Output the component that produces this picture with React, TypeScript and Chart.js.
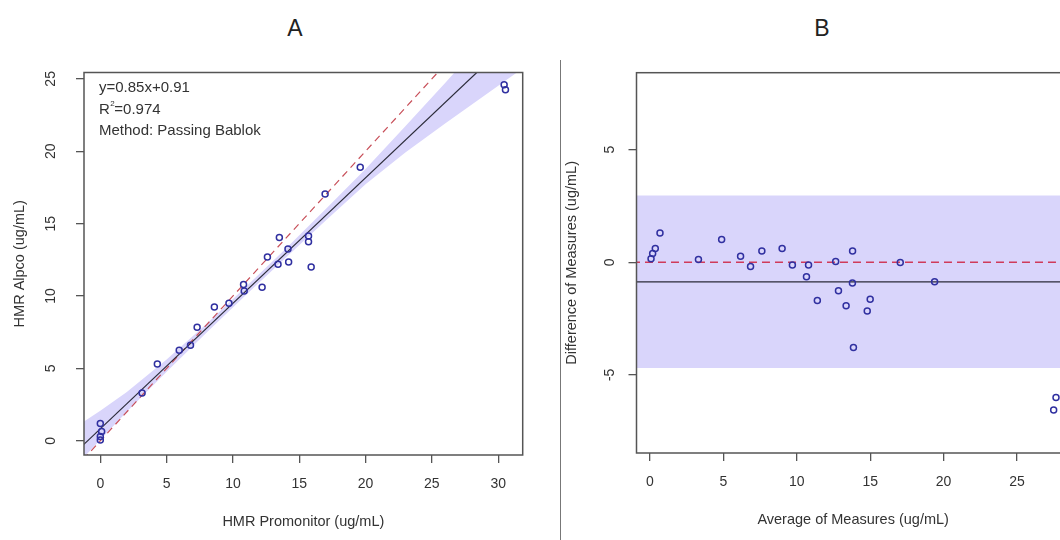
import React, { useEffect, useRef } from "react";
import { Chart, registerables } from "chart.js";
Chart.register(...registerables);

// ---------- Panel A: method comparison (Passing-Bablok) ----------
const promonitor = [0, 0.1, 0, 0, 3.15, 4.3, 5.95, 6.8, 7.3, 8.6, 9.7, 10.8, 10.85, 12.2, 12.6, 13.5, 13.4, 14.15, 14.2, 15.7, 15.7, 15.9, 16.95, 19.6, 30.45, 30.55];
const alpco = [1.2, 0.65, 0.3, 0.05, 3.3, 5.3, 6.25, 6.6, 7.85, 9.25, 9.5, 10.8, 10.35, 10.6, 12.7, 14.05, 12.2, 13.25, 12.35, 14.15, 13.75, 12.0, 17.05, 18.9, 24.6, 24.25];
const regLineX = [-1.3, 32];
const regLineY = [-0.3, 28.57];
const identityX = [-1.3, 27];
const identityY = [-1.3, 27];
const bandX = [-1.3, 0, 2, 5, 8, 11, 14, 17, 20, 23, 26, 29, 32];
const bandUpper = [1.3, 2.08, 3.38, 5.62, 8.07, 10.65, 13.29, 16.02, 18.77, 21.72, 24.72, 27.77, 30.82];
const bandLower = [-1.2, 0.08, 2.01, 4.77, 7.47, 10.09, 12.67, 15.22, 17.72, 19.92, 21.92, 23.87, 25.82];
const ticksAX = [0, 5, 10, 15, 20, 25, 30];
const ticksAY = [0, 5, 10, 15, 20, 25];
const annotationA = ["y=0.85x+0.91", "R", "2", "=0.974", "Method: Passing Bablok"];

// ---------- Panel B: Bland-Altman ----------
const averages = [0.07, 0.18, 0.36, 0.68, 3.3, 4.88, 6.17, 6.85, 7.62, 9.0, 9.7, 10.8, 10.66, 11.4, 12.65, 13.8, 12.84, 13.79, 13.36, 15.0, 14.8, 13.86, 17.05, 19.39, 27.66, 27.5];
const differences = [0.16, 0.39, 0.61, 1.3, 0.12, 1.01, 0.27, -0.19, 0.5, 0.61, -0.12, -0.12, -0.64, -1.7, 0.04, 0.5, -1.26, -0.92, -1.93, -1.64, -2.16, -3.79, -0.01, -0.86, -6.0, -6.56];
const meanDiff = -0.87;
const upperLoA = 2.97;
const lowerLoA = -4.7;
const hLineX = [-3, 35];
const ticksBX = [0, 5, 10, 15, 20, 25];
const ticksBY = [-5, 0, 5];

const FONT = "'Liberation Sans', Arial, sans-serif";
const TXT = "#333";
const POINT = "#3030a0";
const BAND = "#d9d5fb";

const pts = (xs: number[], ys: number[]) => xs.map((x, i) => ({ x, y: ys[i] }));

const boxPlugin = {
  id: "boxPlugin",
  afterDatasetsDraw(chart: any) {
    const { ctx, chartArea: a } = chart;
    ctx.save();
    ctx.strokeStyle = "#555";
    ctx.lineWidth = 1.5;
    ctx.strokeRect(a.left, a.top, a.right - a.left, a.bottom - a.top);
    ctx.restore();
  },
};

const annotPlugin = {
  id: "annotPlugin",
  afterDraw(chart: any) {
    const ctx = chart.ctx;
    ctx.save();
    ctx.fillStyle = TXT;
    ctx.textBaseline = "middle";
    ctx.textAlign = "left";
    ctx.font = `15px ${FONT}`;
    const x0 = 99;
    ctx.fillText(annotationA[0], x0, 88);
    ctx.fillText(annotationA[1], x0, 110);
    const rw = ctx.measureText(annotationA[1]).width;
    ctx.font = `8px ${FONT}`;
    ctx.fillText(annotationA[2], x0 + rw + 0.5, 104);
    ctx.font = `15px ${FONT}`;
    ctx.fillText(annotationA[3], x0 + rw + 4.5, 110);
    ctx.fillText(annotationA[4], x0, 131);
    ctx.restore();
  },
};

function axis(opts: {
  min: number;
  max: number;
  ticks: number[];
  title: string;
  vertical: boolean;
  size: number;
  tickPad: number;
  titlePad: number;
}) {
  return {
    type: "linear",
    position: opts.vertical ? "left" : "bottom",
    min: opts.min,
    max: opts.max,
    afterBuildTicks: (s: any) => {
      s.ticks = opts.ticks.map((v) => ({ value: v }));
    },
    afterFit: (s: any) => {
      if (opts.vertical) s.width = opts.size;
      else s.height = opts.size;
    },
    grid: {
      display: true,
      drawOnChartArea: false,
      drawTicks: true,
      tickLength: 8,
      color: "#555",
      lineWidth: 1.3,
    },
    border: { display: false },
    ticks: {
      color: TXT,
      font: { family: FONT, size: 14 },
      padding: opts.tickPad,
      autoSkip: false,
      includeBounds: false,
      minRotation: opts.vertical ? 90 : 0,
      maxRotation: opts.vertical ? 90 : 0,
      crossAlign: opts.vertical ? "center" : "near",
      callback: (v: any) => String(v),
    },
    title: {
      display: true,
      text: opts.title,
      color: TXT,
      font: { family: FONT, size: 14.5 },
      padding: opts.vertical ? { top: opts.titlePad, bottom: 0 } : { top: 0, bottom: opts.titlePad },
    },
  };
}

const lineDs = (data: any[], color: string, width: number, dash: number[], order: number) => ({
  type: "line",
  data,
  borderColor: color,
  borderWidth: width,
  borderDash: dash,
  pointRadius: 0,
  fill: false,
  tension: 0,
  order,
});

export default function App() {
  const refA = useRef<HTMLCanvasElement>(null);
  const refB = useRef<HTMLCanvasElement>(null);

  useEffect(() => {
    const chartA = new Chart(refA.current as HTMLCanvasElement, {
      type: "line",
      data: {
        datasets: [
          {
            type: "line",
            data: pts(promonitor, alpco),
            showLine: false,
            pointStyle: "circle",
            pointRadius: 3,
            pointBorderWidth: 1.5,
            pointBorderColor: POINT,
            pointBackgroundColor: "rgba(0,0,0,0)",
            borderColor: POINT,
            order: 0,
          },
          lineDs(pts(regLineX, regLineY), "#2a2a38", 1.2, [], 1),
          lineDs(pts(identityX, identityY), "#c8505a", 1.2, [7, 5], 2),
          {
            type: "line",
            data: pts(bandX, bandUpper),
            borderColor: "rgba(0,0,0,0)",
            borderWidth: 0,
            pointRadius: 0,
            backgroundColor: BAND,
            fill: "+1",
            tension: 0,
            order: 3,
          },
          {
            type: "line",
            data: pts(bandX, bandLower),
            borderColor: "rgba(0,0,0,0)",
            borderWidth: 0,
            pointRadius: 0,
            fill: false,
            tension: 0,
            order: 4,
          },
        ],
      } as any,
      options: {
        responsive: false,
        animation: false,
        events: [],
        layout: { padding: { top: 72.5, right: 22.3, left: 0, bottom: 0 } },
        plugins: { legend: { display: false }, tooltip: { enabled: false } },
        scales: {
          x: axis({ min: -1.23, max: 31.85, ticks: ticksAX, title: "HMR Promonitor (ug/mL)", vertical: false, size: 85, tickPad: 12.6, titlePad: 9.3 }),
          y: axis({ min: -0.98, max: 25.44, ticks: ticksAY, title: "HMR Alpco (ug/mL)", vertical: true, size: 84, tickPad: 17.5, titlePad: 11.3 }),
        } as any,
      },
      plugins: [boxPlugin, annotPlugin],
    } as any);

    const chartB = new Chart(refB.current as HTMLCanvasElement, {
      type: "line",
      data: {
        datasets: [
          {
            type: "line",
            data: pts(averages, differences),
            showLine: false,
            pointStyle: "circle",
            pointRadius: 3,
            pointBorderWidth: 1.5,
            pointBorderColor: POINT,
            pointBackgroundColor: "rgba(0,0,0,0)",
            borderColor: POINT,
            order: 0,
          },
          lineDs(pts(hLineX, hLineX.map(() => meanDiff)), "#2a2a38", 1.3, [], 1),
          lineDs(pts(hLineX, hLineX.map(() => 0)), "#d03a5a", 1.5, [8, 5], 2),
          {
            type: "line",
            data: pts(hLineX, hLineX.map(() => upperLoA)),
            borderColor: "rgba(0,0,0,0)",
            borderWidth: 0,
            pointRadius: 0,
            backgroundColor: BAND,
            fill: "+1",
            order: 3,
          },
          {
            type: "line",
            data: pts(hLineX, hLineX.map(() => lowerLoA)),
            borderColor: "rgba(0,0,0,0)",
            borderWidth: 0,
            pointRadius: 0,
            fill: false,
            order: 4,
          },
        ],
      } as any,
      options: {
        responsive: false,
        animation: false,
        events: [],
        layout: { padding: { top: 72.7, right: 10.2, left: 0, bottom: 0 } },
        plugins: { legend: { display: false }, tooltip: { enabled: false } },
        scales: {
          x: axis({ min: -0.92, max: 28.6, ticks: ticksBX, title: "Average of Measures (ug/mL)", vertical: false, size: 87, tickPad: 12.6, titlePad: 11.3 }),
          y: axis({ min: -8.47, max: 8.42, ticks: ticksBY, title: "Difference of Measures (ug/mL)", vertical: true, size: 76.5, tickPad: 12, titlePad: 3.3 }),
        } as any,
      },
      plugins: [boxPlugin],
    } as any);

    return () => {
      chartA.destroy();
      chartB.destroy();
    };
  }, []);

  const titleStyle = (left: number): React.CSSProperties => ({
    position: "absolute",
    left,
    top: 28,
    transform: "translate(-50%, -50%)",
    font: `23px ${FONT}`,
    color: "#222",
    lineHeight: "1",
  });

  return (
    <div
      style={{
        position: "absolute",
        left: 0,
        top: 0,
        width: 1060,
        height: 540,
        overflow: "hidden",
        background: "#fff",
      }}
    >
      <div style={titleStyle(295)}>A</div>
      <div style={titleStyle(822)}>B</div>
      <canvas
        ref={refA}
        width={545}
        height={540}
        style={{ position: "absolute", left: 0, top: 0, width: 545, height: 540 }}
      />
      <div
        style={{
          position: "absolute",
          left: 559.5,
          top: 60,
          width: 1.6,
          height: 480,
          background: "#777",
        }}
      />
      <canvas
        ref={refB}
        width={520}
        height={540}
        style={{ position: "absolute", left: 560, top: 0, width: 520, height: 540 }}
      />
    </div>
  );
}
